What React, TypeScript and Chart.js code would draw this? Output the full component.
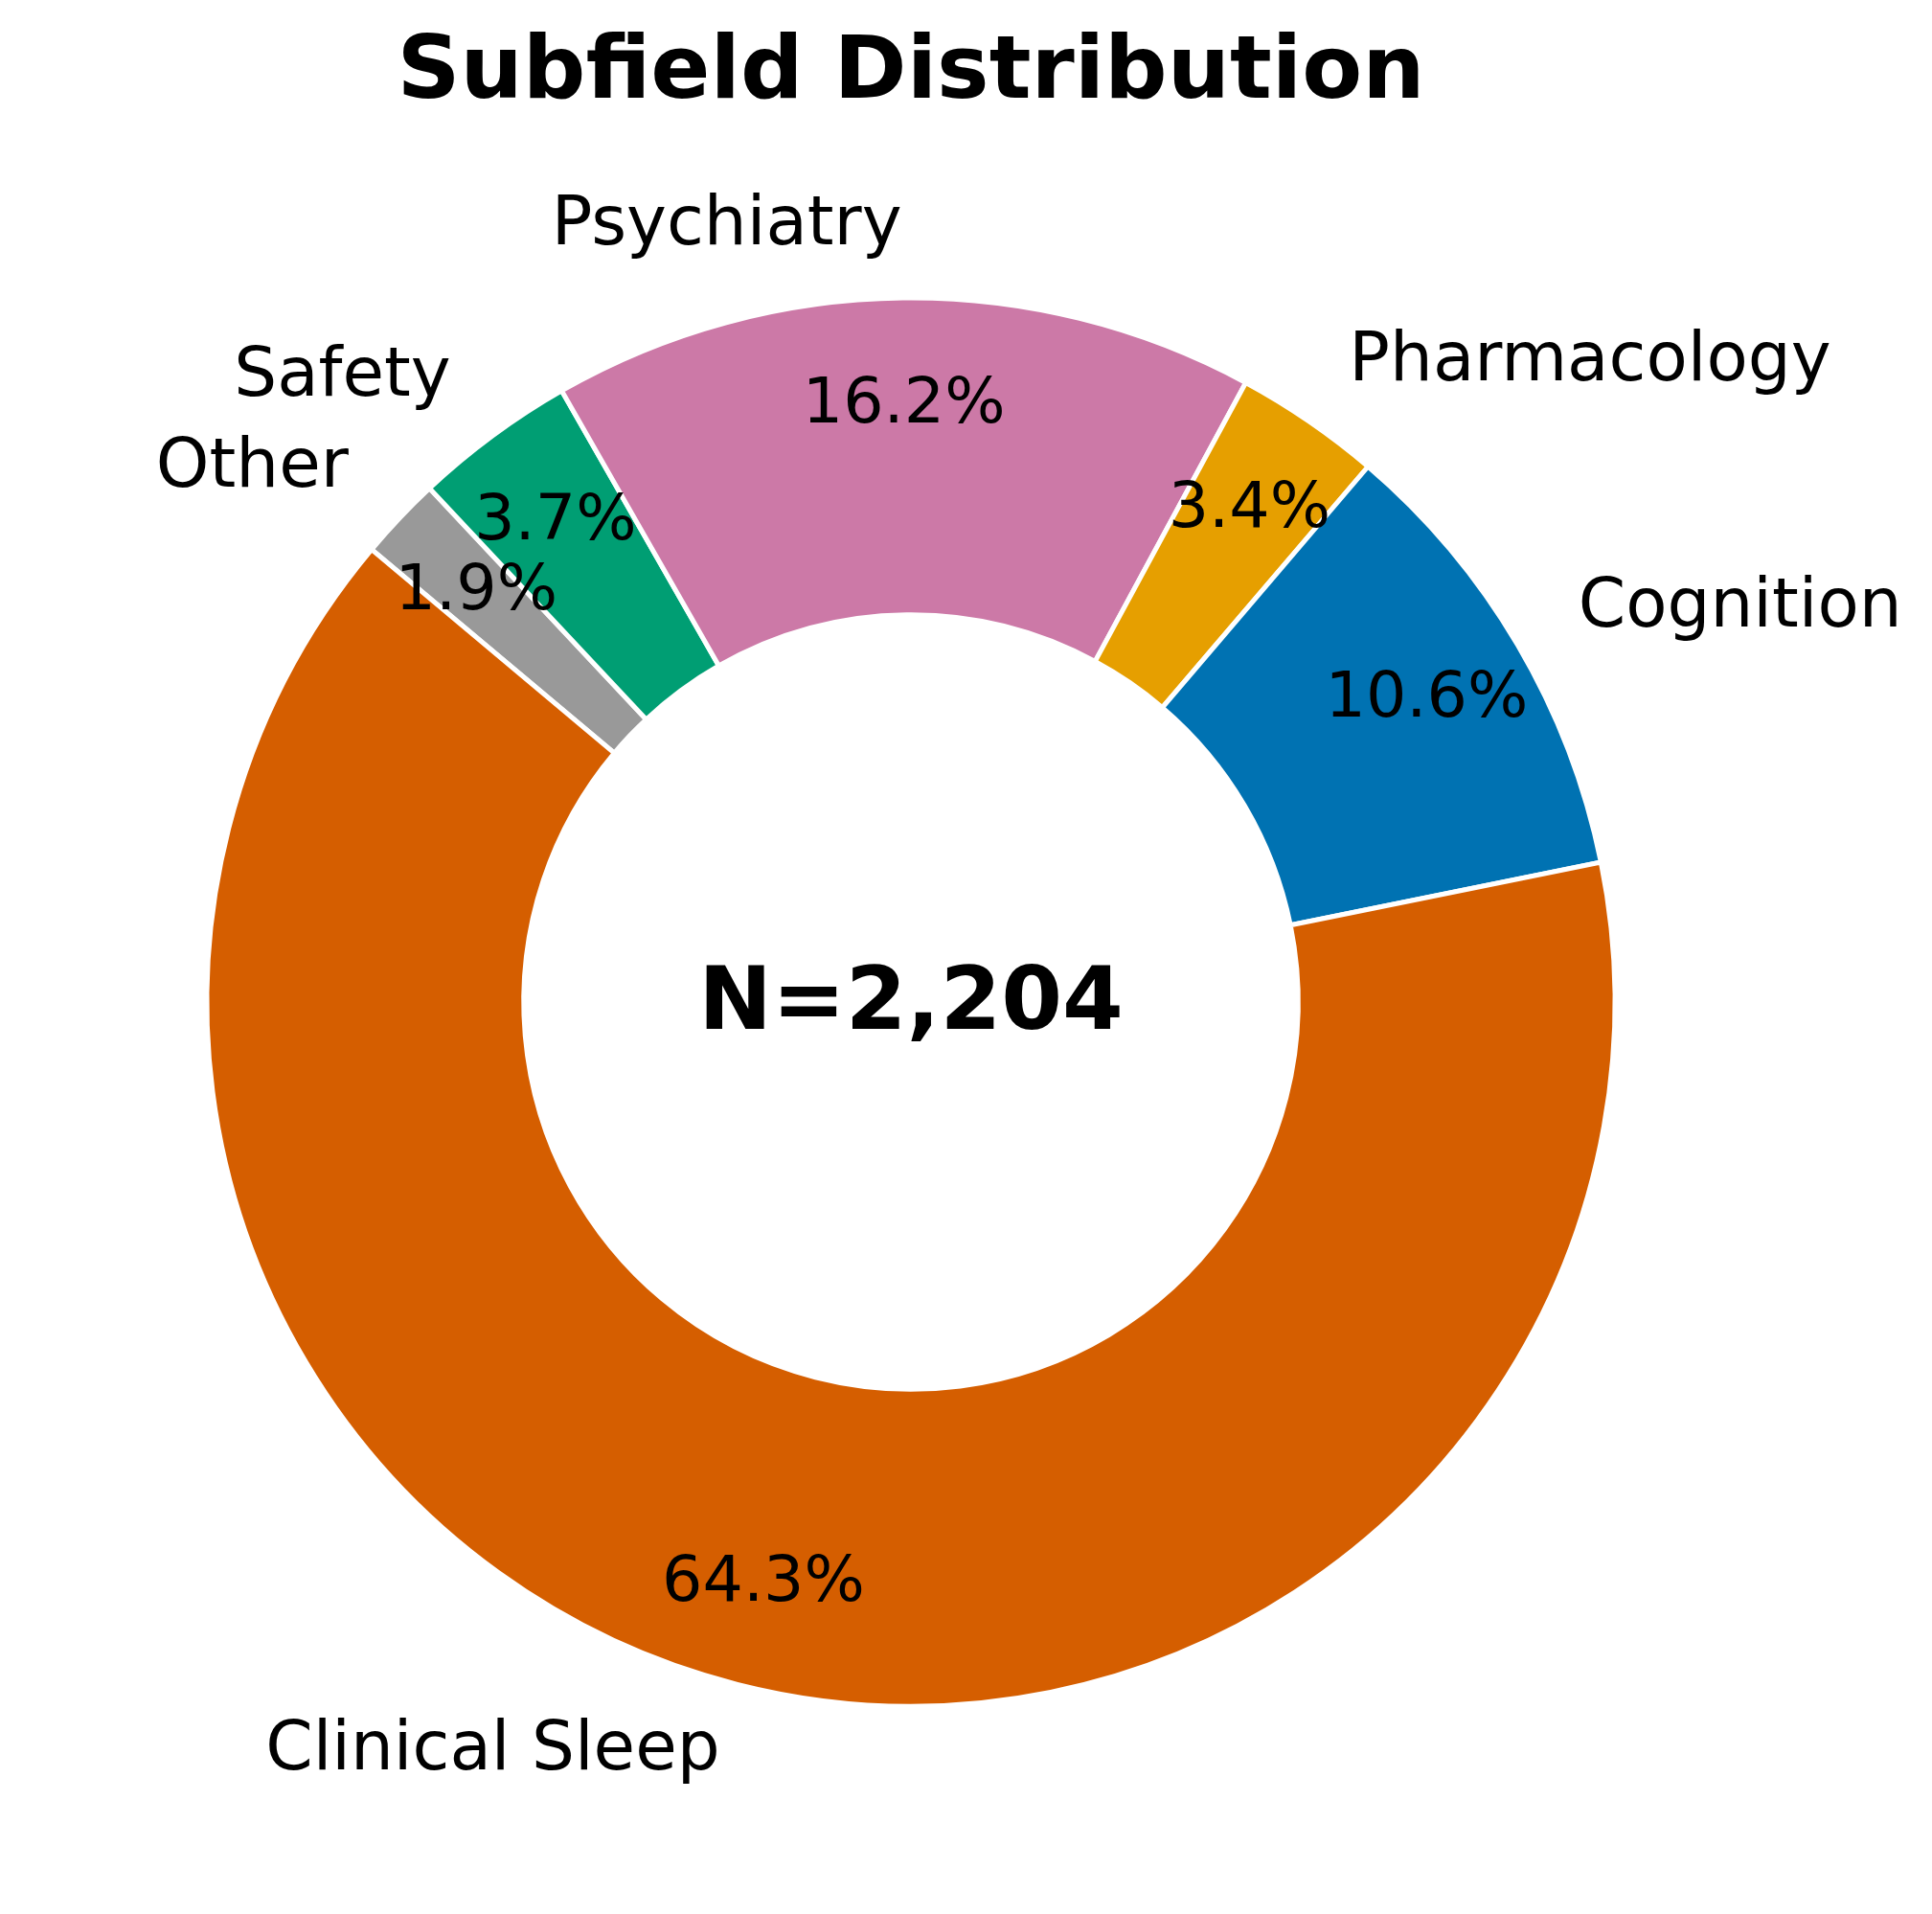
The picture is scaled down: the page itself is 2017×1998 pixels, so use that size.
import React, { useEffect, useRef } from "react";
import { Chart, registerables } from "chart.js";

Chart.register(...registerables);

// ---- Data (matplotlib order, counter-clockwise from start angle) ----
const categories = ["Clinical Sleep", "Cognition", "Pharmacology", "Psychiatry", "Safety", "Other"];
const counts = [1417, 233, 74, 356, 82, 42];
const colors = ["#D55E00", "#0072B2", "#E69F00", "#CC79A7", "#009E73", "#999999"];
const titleText = "Subfield Distribution";
const START_ANGLE = 140; // degrees, counter-clockwise from 3 o'clock

const FONT = '"DejaVu Sans", "Noto Sans", sans-serif';
const TITLE_SIZE = 91.7;
const LABEL_SIZE = 70.8;
const PCT_SIZE = 66.7;
const CENTER_SIZE = 91.7;

export default function App() {
  const canvasRef = useRef<HTMLCanvasElement | null>(null);

  useEffect(() => {
    document.body.style.margin = "0";
    const canvas = canvasRef.current;
    if (!canvas) return;

    // Chart.js draws clockwise, so reverse the order to mimic a counter-clockwise pie
    const revLabels = [...categories].reverse();
    const revCounts = [...counts].reverse();
    const revColors = [...colors].reverse();
    const total = counts.reduce((a, b) => a + b, 0);

    const textPlugin = {
      id: "donutText",
      afterDraw(chart: any) {
        const ctx = chart.ctx as CanvasRenderingContext2D;
        const meta = chart.getDatasetMeta(0);
        let cxC = 0;
        let cyC = 0;
        ctx.save();
        ctx.fillStyle = "#000";
        meta.data.forEach((arc: any, i: number) => {
          const p = arc.getProps(["x", "y", "startAngle", "endAngle", "outerRadius"], true);
          cxC = p.x;
          cyC = p.y;
          const mid = (p.startAngle + p.endAngle) / 2;
          const c = Math.cos(mid);
          const s = Math.sin(mid);
          const R = p.outerRadius;
          // outer label
          ctx.font = `${LABEL_SIZE}px ${FONT}`;
          ctx.textBaseline = "alphabetic";
          ctx.textAlign = c > 0 ? "left" : "right";
          ctx.fillText(revLabels[i], p.x + c * 1.1 * R, p.y + s * 1.1 * R + 0.25 * LABEL_SIZE);
          // percentage
          const pct = ((revCounts[i] / total) * 100).toFixed(1) + "%";
          ctx.font = `${PCT_SIZE}px ${FONT}`;
          ctx.textAlign = "center";
          ctx.fillText(pct, p.x + c * 0.85 * R, p.y + s * 0.85 * R + 0.29 * PCT_SIZE);
        });
        // center text
        ctx.font = `bold ${CENTER_SIZE}px ${FONT}`;
        ctx.textAlign = "center";
        ctx.textBaseline = "alphabetic";
        ctx.fillText("N=" + total.toLocaleString("en-US"), cxC, cyC + 0.31 * CENTER_SIZE);
        // title
        ctx.font = `bold ${TITLE_SIZE}px ${FONT}`;
        ctx.fillText(titleText, cxC, 102);
        ctx.restore();
      },
    };

    const chart = new Chart(canvas, {
      type: "doughnut",
      data: {
        labels: revLabels,
        datasets: [
          {
            data: revCounts,
            backgroundColor: revColors,
            borderColor: "#ffffff",
            borderWidth: 5,
            borderJoinStyle: "miter",
            hoverOffset: 0,
          } as any,
        ],
      },
      options: {
        responsive: false,
        maintainAspectRatio: false,
        devicePixelRatio: 1,
        animation: false,
        events: [],
        rotation: 90 - START_ANGLE,
        cutout: "55%",
        radius: 735,
        layout: { padding: { left: 0, right: 115, top: 94, bottom: 0 } },
        plugins: {
          legend: { display: false },
          title: { display: false },
          tooltip: { enabled: false },
        },
      } as any,
      plugins: [textPlugin],
    });

    return () => {
      chart.destroy();
    };
  }, []);

  return (
    <div style={{ width: 2017, height: 1998, background: "#fff" }}>
      <canvas ref={canvasRef} width={2017} height={1998} style={{ display: "block", width: 2017, height: 1998 }} />
    </div>
  );
}
